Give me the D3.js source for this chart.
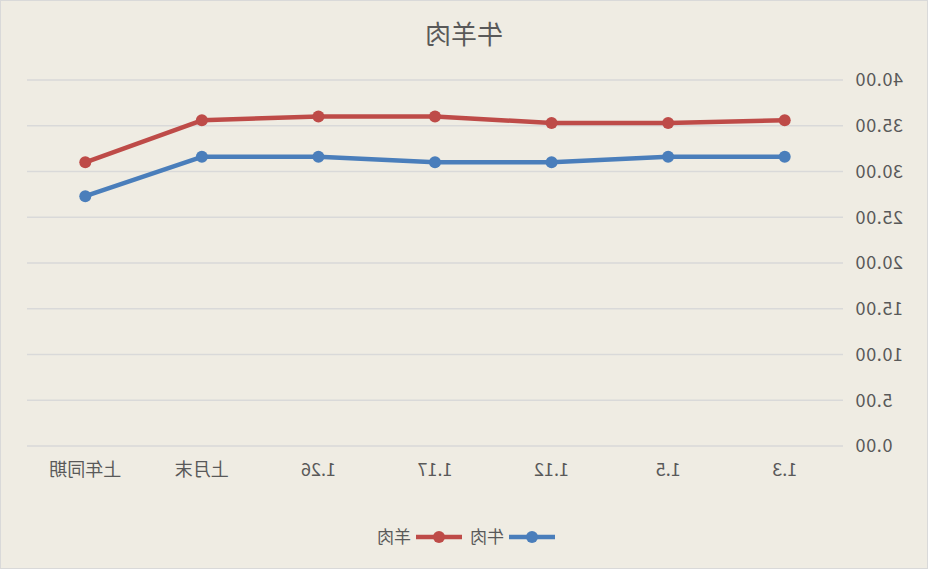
<!DOCTYPE html>
<html>
<head>
<meta charset="utf-8">
<script src="https://cdn.jsdelivr.net/npm/d3@7"></script>
<style>
  body { margin: 0; background: #efece3; }
  /* the reference is a mirror image of the chart */
  #vis { display: block; transform: scaleX(-1); }
  text { font-family: "Noto Sans CJK SC", "Noto Sans", sans-serif; fill: #595959; }
</style>
</head>
<body>
<svg id="vis" width="928" height="569"></svg>
<script>
var categories = ["1.3", "1.5", "1.12", "1.17", "1.26", "上月末", "上年同期"];
var beef = [31.6, 31.6, 31.0, 31.0, 31.6, 31.6, 27.3];
var mutton = [35.6, 35.3, 35.3, 36.0, 36.0, 35.6, 31.0];
var yTicks = [0, 5, 10, 15, 20, 25, 30, 35, 40];
var seriesNames = ["牛肉", "羊肉"];
var seriesColors = ["#4a7ebb", "#be4b48"];

var W = 928, H = 569;
var svg = d3.select("#vis");

svg.append("rect")
   .attr("x", 0.5).attr("y", 0.5)
   .attr("width", W - 1).attr("height", H - 1)
   .attr("fill", "#efece3")
   .attr("stroke", "#d9d9d9");

var x = d3.scaleBand().domain(categories).range([85, 901]);
var y = d3.scaleLinear().domain([0, 40]).range([446, 80]);

// gridlines
svg.append("g").selectAll("line")
   .data(yTicks)
   .enter()
   .append("line")
   .attr("x1", 85).attr("x2", 901)
   .attr("y1", d => y(d)).attr("y2", d => y(d))
   .attr("stroke", "#d9d9d9")
   .attr("stroke-width", 1.3);

// y labels
svg.append("g").selectAll("text")
   .data(yTicks)
   .enter()
   .append("text")
   .attr("x", 73)
   .attr("y", d => y(d))
   .attr("dy", "0.35em")
   .attr("text-anchor", "end")
   .attr("font-size", 18)
   .attr("letter-spacing", 0.6)
   .text(d => d.toFixed(2));

// x labels
svg.append("g").selectAll("text")
   .data(categories)
   .enter()
   .append("text")
   .attr("x", d => x(d) + x.bandwidth() / 2)
   .attr("y", 470)
   .attr("dy", "0.35em")
   .attr("text-anchor", "middle")
   .attr("font-size", 18)
   .text(d => d);

// title
svg.append("text")
   .attr("x", W / 2)
   .attr("y", 35)
   .attr("dy", "0.35em")
   .attr("text-anchor", "middle")
   .attr("font-size", 26)
   .text("牛羊肉");

var line = d3.line()
   .x((d, i) => x(categories[i]) + x.bandwidth() / 2)
   .y(d => y(d));

[beef, mutton].forEach(function(vals, k) {
	svg.append("path")
	   .datum(vals)
	   .attr("d", line)
	   .attr("fill", "none")
	   .attr("stroke", seriesColors[k])
	   .attr("stroke-width", 4.5)
	   .attr("stroke-linejoin", "round")
	   .attr("stroke-linecap", "round");
	svg.append("g").selectAll("circle")
	   .data(vals)
	   .enter()
	   .append("circle")
	   .attr("cx", (d, i) => x(categories[i]) + x.bandwidth() / 2)
	   .attr("cy", d => y(d))
	   .attr("r", 6)
	   .attr("fill", seriesColors[k]);
});

// legend
var legendX = [373, 466];
seriesNames.forEach(function(name, k) {
	var g = svg.append("g").attr("transform", "translate(" + legendX[k] + ",537)");
	g.append("line")
	 .attr("x1", 0).attr("x2", 46)
	 .attr("stroke", seriesColors[k])
	 .attr("stroke-width", 4.5);
	g.append("circle")
	 .attr("cx", 23).attr("r", 6)
	 .attr("fill", seriesColors[k]);
	g.append("text")
	 .attr("x", 51)
	 .attr("dy", "0.35em")
	 .attr("font-size", 17)
	 .text(name);
});
</script>
</body>
</html>
